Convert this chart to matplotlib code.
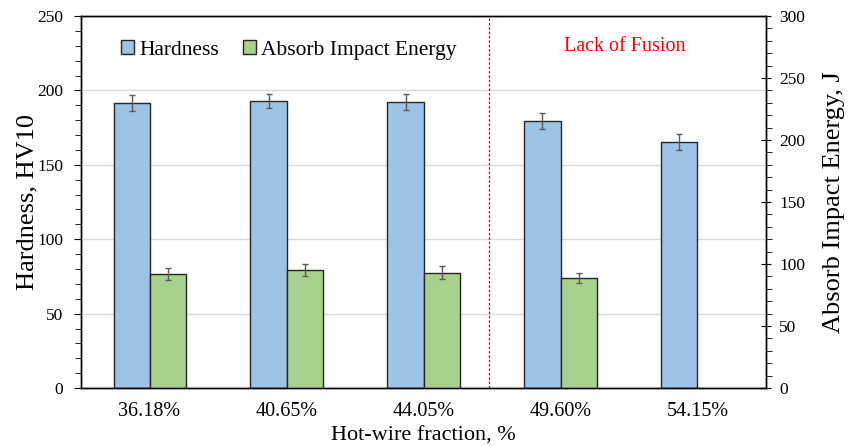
import matplotlib.pyplot as plt
from matplotlib.ticker import MultipleLocator
import numpy as np

fractions = ['36.18%', '40.65%', '44.05%', '49.60%', '54.15%']
hardness = [191.3, 192.9, 192.0, 179.2, 165.1]
hardness_err = [5.4, 5.0, 5.3, 5.4, 5.4]
impact = [92.2, 94.9, 93.0, 88.5]
impact_err = [4.9, 4.8, 5.2, 4.0]

plt.rcParams['font.family'] = ['Liberation Serif', 'DejaVu Serif']

fig = plt.figure(figsize=(8.53, 4.46), dpi=100)
ax = fig.add_axes([0.095, 0.130, 0.803, 0.834])
ax2 = ax.twinx()

x = np.arange(len(fractions))
w = 0.263

ax.set_axisbelow(True)
ax.grid(axis='y', color='#d9d9d9', linewidth=1)
err_style = dict(ecolor='#595959', elinewidth=1, capsize=2.5, capthick=1)
b1 = ax.bar(x - w / 2, hardness, w, color='#9dc3e6', edgecolor='#262626', linewidth=1,
            yerr=hardness_err, error_kw=err_style, label='Hardness')
b2 = ax2.bar(x[:len(impact)] + w / 2, impact, w, color='#a9d18e', edgecolor='#262626', linewidth=1,
             yerr=impact_err, error_kw=err_style, label='Absorb Impact Energy')

ax.set_xlim(-0.5, 4.5)
ax.set_ylim(0, 250)
ax2.set_ylim(0, 300)
ax.yaxis.set_major_locator(MultipleLocator(50))
ax.yaxis.set_minor_locator(MultipleLocator(10))
ax2.yaxis.set_major_locator(MultipleLocator(50))
ax2.yaxis.set_minor_locator(MultipleLocator(10))

ax.set_xticks(x)
ax.set_xticklabels(fractions, fontsize=14.5)
ax.tick_params(axis='x', length=0, pad=10)
ax.tick_params(axis='y', which='major', direction='out', length=5, labelsize=12.5, pad=8)
ax.tick_params(axis='y', which='minor', direction='out', length=4)
ax2.tick_params(axis='y', which='major', direction='inout', length=7, labelsize=12.5, pad=6)
ax2.tick_params(axis='y', which='minor', direction='out', length=4)

for a in (ax, ax2):
    for s in a.spines.values():
        s.set_color('black')
        s.set_linewidth(1)

ax.set_xlabel('Hot-wire fraction, %', fontsize=16, labelpad=4)
ax.set_ylabel('Hardness, HV10', fontsize=19, labelpad=-1)
ax2.set_ylabel('Absorb Impact Energy, J', fontsize=19, labelpad=13)

ax.axvline(2.48, color='#d00000', linestyle=(0, (2, 1.5)), linewidth=0.9)
ax.text(3.47, 0.917, 'Lack of Fusion', color='red', fontsize=14.5,
        ha='center', va='center', transform=ax.get_xaxis_transform())

ax.legend([b1, b2], ['Hardness', 'Absorb Impact Energy'], loc='center left',
          bbox_to_anchor=(0.03, 0.909), ncol=2, frameon=False, fontsize=15.5,
          handlelength=0.6, handleheight=0.6, handletextpad=0.25, columnspacing=1.1)

fig.savefig('out.png', dpi=100)
